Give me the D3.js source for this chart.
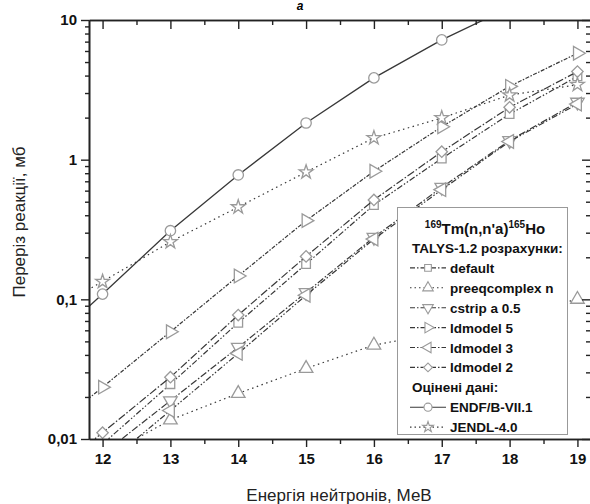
<!DOCTYPE html>
<html>
<head>
<meta charset="utf-8">
<script src="https://cdn.jsdelivr.net/npm/d3@7"></script>
<style>
  body { margin: 0; background: #fff; }
  svg { display: block; font-family: 'Liberation Sans', Arial, sans-serif; }
</style>
</head>
<body>
<svg id="chart" width="590" height="504"></svg>
<script>
// енергія нейтронів, МеВ (11 - поза графіком, лише щоб лінії доходили до осі)
const energy = [11, 12, 13, 14, 15, 16, 17, 18, 19];

const defaultVals = [null, 0.0092, 0.0247, 0.068, 0.179, 0.474, 1.02, 2.12, 3.95];
const preeqVals = [null, 0.0074, 0.0137, 0.0212, 0.032, 0.047, 0.058, 0.077, 0.1];
const cstripVals = [null, 0.0078, 0.0188, 0.0453, 0.112, 0.278, 0.634, 1.37, 2.58];
const ld5Vals = [0.0095, 0.0235, 0.0586, 0.147, 0.366, 0.826, 1.72, 3.35, 5.78];
const ld3Vals = [null, 0.0063, 0.016, 0.041, 0.107, 0.27, 0.61, 1.35, 2.5];
const ld2Vals = [0.0045, 0.0111, 0.0277, 0.0772, 0.203, 0.515, 1.14, 2.37, 4.27];
const endfVals = [0.04, 0.109, 0.31, 0.777, 1.83, 3.85, 7.2, 12.3, null];
const jendlVals = [0.072, 0.134, 0.258, 0.458, 0.815, 1.43, 1.99, 2.9, 3.44];

const xTicks = [12, 13, 14, 15, 16, 17, 18, 19];
const yTicks = [0.01, 0.1, 1, 10];
const yTickLabels = ['0,01', '0,1', '1', '10'];

const series = [
  { name: 'default', values: defaultVals, symbol: d3.symbolSquare, rot: 0, size: 75, dash: '6,2,1.5,2,1.5,2' },
  { name: 'preeqcomplex n', values: preeqVals, symbol: d3.symbolTriangle, rot: 0, size: 80, dash: '1.5,3.5' },
  { name: 'cstrip a 0.5', values: cstripVals, symbol: d3.symbolTriangle, rot: 180, size: 80, dash: '7,2,1.5,2' },
  { name: 'ldmodel 5', values: ld5Vals, symbol: d3.symbolTriangle, rot: 90, size: 80, dash: '4,1.5,1.5,1.5' },
  { name: 'ldmodel 3', values: ld3Vals, symbol: d3.symbolTriangle, rot: -90, size: 80, dash: '6,2,1.5,2,1.5,2' },
  { name: 'ldmodel 2', values: ld2Vals, symbol: d3.symbolSquare, rot: 45, size: 65, dash: '8,2,1.5,2' },
];
const evaluated = [
  { name: 'ENDF/B-VII.1', values: endfVals, symbol: d3.symbolCircle, rot: 0, size: 85, dash: null },
  { name: 'JENDL-4.0', values: jendlVals, symbol: d3.symbolStar, rot: 0, size: 60, dash: '1.5,3.5' },
];

const svg = d3.select('#chart');
const x = d3.scaleLinear().domain([11.8, 19.2]).range([89, 591]);
const y = d3.scaleLog().domain([0.01, 10]).range([439, 20]);

svg.append('defs').append('clipPath')
  .attr('id', 'plot-clip')
  .append('rect')
  .attr('x', 89).attr('y', 20)
  .attr('width', 502).attr('height', 419);

const plot = svg.append('g').attr('clip-path', 'url(#plot-clip)');

const line = d3.line()
  .defined(d => d.v !== null)
  .x(d => x(d.e))
  .y(d => y(d.v));

const lineColor = '#383838';
const markColor = '#9a9a9a';

[...series, ...evaluated].forEach((s) => {
  const pts = energy.map((e, i) => ({ e, v: s.values[i] }));
  plot.append('path')
    .datum(pts)
    .attr('fill', 'none')
    .attr('stroke', lineColor)
    .attr('stroke-width', s.dash ? 1.2 : 1.3)
    .attr('stroke-dasharray', s.dash)
    .attr('d', line);

  plot.selectAll(null)
    .data(pts.filter(d => d.v !== null))
    .enter()
    .append('path')
    .attr('transform', d => `translate(${x(d.e)},${y(d.v)}) rotate(${s.rot})`)
    .attr('d', d3.symbol().type(s.symbol).size(s.size))
    .attr('fill', '#fff')
    .attr('stroke', markColor)
    .attr('stroke-width', 1.3);
});

// осі
const axisColor = '#222';
const minorX = d3.range(11.5, 19.6, 1).filter(v => v > 11.8 && v < 19.2);
const minorY = [];
[0.01, 0.1, 1].forEach(p => d3.range(2, 10).forEach(k => minorY.push(p * k)));

function styleAxis(g) {
  g.select('.domain').attr('stroke', axisColor).attr('stroke-width', 1.6);
  g.selectAll('.tick line').attr('stroke', axisColor).attr('stroke-width', 1.4);
}

svg.append('g')
  .attr('transform', 'translate(0,439)')
  .call(d3.axisBottom(x).tickValues(xTicks).tickSize(8).tickSizeOuter(0).tickPadding(6)
    .tickFormat(d3.format('d')))
  .call(styleAxis)
  .call(g => g.selectAll('.tick text')
    .attr('font-size', 15).attr('font-weight', 'bold').attr('fill', '#111'));

svg.append('g')
  .attr('transform', 'translate(0,439)')
  .call(d3.axisBottom(x).tickValues(minorX).tickSize(5).tickSizeOuter(0).tickFormat(''))
  .call(styleAxis);

svg.append('g')
  .attr('transform', 'translate(0,20)')
  .call(d3.axisTop(x).tickValues(xTicks).tickSize(-9).tickSizeOuter(0).tickFormat(''))
  .call(styleAxis);

svg.append('g')
  .attr('transform', 'translate(0,20)')
  .call(d3.axisTop(x).tickValues(minorX).tickSize(-5).tickSizeOuter(0).tickFormat(''))
  .call(styleAxis);

svg.append('g')
  .attr('transform', 'translate(89,0)')
  .call(d3.axisLeft(y).tickValues(yTicks).tickSize(8).tickSizeOuter(0).tickPadding(4)
    .tickFormat((d, i) => yTickLabels[i]))
  .call(styleAxis)
  .call(g => g.selectAll('.tick text')
    .attr('font-size', 15).attr('font-weight', 'bold').attr('fill', '#111'));

svg.append('g')
  .attr('transform', 'translate(89,0)')
  .call(d3.axisLeft(y).tickValues(minorY).tickSize(4).tickSizeOuter(0).tickFormat(''))
  .call(styleAxis);

svg.append('g')
  .attr('transform', 'translate(591,0)')
  .call(d3.axisRight(y).tickValues(yTicks).tickSize(-9).tickSizeOuter(0).tickFormat(''))
  .call(styleAxis);

svg.append('g')
  .attr('transform', 'translate(591,0)')
  .call(d3.axisRight(y).tickValues(minorY).tickSize(-5).tickSizeOuter(0).tickFormat(''))
  .call(styleAxis);

// підписи осей
svg.append('text')
  .attr('x', 339).attr('y', 501)
  .attr('text-anchor', 'middle')
  .attr('font-size', 17)
  .attr('fill', '#222')
  .text('Енергія нейтронів, МеВ');

svg.append('text')
  .attr('transform', 'translate(25,222) rotate(-90)')
  .attr('text-anchor', 'middle')
  .attr('font-size', 17)
  .attr('fill', '#222')
  .text('Переріз реакції, мб');

svg.append('text')
  .attr('x', 300).attr('y', 10)
  .attr('text-anchor', 'middle')
  .attr('font-size', 12)
  .attr('font-weight', 'bold')
  .attr('font-style', 'italic')
  .text('a');

// легенда
const lg = svg.append('g');
lg.append('rect')
  .attr('x', 397.5).attr('y', 207.5)
  .attr('width', 170).attr('height', 227)
  .attr('fill', '#fff')
  .attr('stroke', '#999')
  .attr('stroke-width', 1);

const title = lg.append('text')
  .attr('x', 485).attr('y', 234)
  .attr('text-anchor', 'middle')
  .attr('font-weight', 'bold')
  .attr('font-size', 15)
  .attr('fill', '#111');
title.append('tspan').attr('font-size', 10).attr('dy', -6).text('169');
title.append('tspan').attr('dy', 6).text('Tm(n,n\'a)');
title.append('tspan').attr('font-size', 10).attr('dy', -6).text('165');
title.append('tspan').attr('dy', 6).text('Ho');

const rowY = i => 253 + i * 19.9;
const legendRows = [
  { label: 'TALYS-1.2 розрахунки:' },
  ...series,
  { label: 'Оцінені дані:' },
  ...evaluated,
];

legendRows.forEach((r, i) => {
  if (r.label) {
    lg.append('text')
      .attr('x', 412).attr('y', rowY(i))
      .attr('font-weight', 'bold')
      .attr('font-size', 13.5)
      .attr('fill', '#111')
      .text(r.label);
    return;
  }
  const cy = rowY(i) - 5;
  lg.append('line')
    .attr('x1', 410).attr('x2', 446)
    .attr('y1', cy).attr('y2', cy)
    .attr('stroke', lineColor)
    .attr('stroke-width', 1.1)
    .attr('stroke-dasharray', r.dash ? (r.dash === '1.5,3.5' ? '1.5,3' : '5,2,1.5,2') : null);
  lg.append('path')
    .attr('transform', `translate(428,${cy}) rotate(${r.rot})`)
    .attr('d', d3.symbol().type(r.symbol).size(r.size * 0.6))
    .attr('fill', '#fff')
    .attr('stroke', markColor)
    .attr('stroke-width', 1.1);
  lg.append('text')
    .attr('x', 450).attr('y', rowY(i))
    .attr('font-weight', 'bold')
    .attr('font-size', 13.5)
    .attr('fill', '#111')
    .text(r.name);
});
</script>
</body>
</html>
